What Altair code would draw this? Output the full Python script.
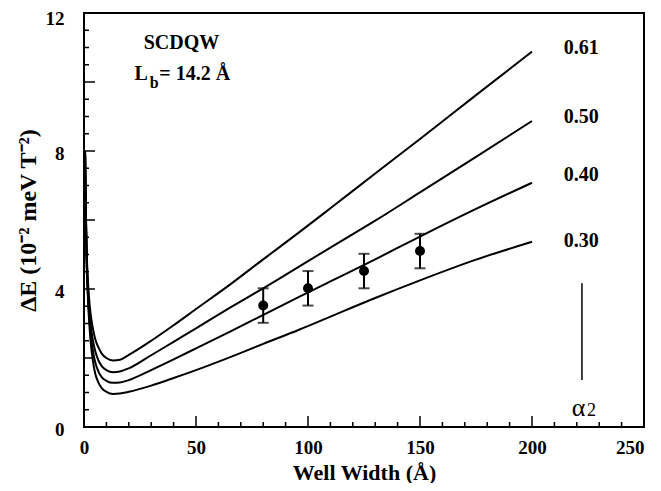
import altair as alt
import pandas as pd

# ---- data ----
well_width = [0.5, 0.8, 1.2, 1.7, 2.3, 3, 4, 5, 6.5, 8, 10, 13, 16, 20, 30, 40, 50, 65, 80, 96, 110, 130, 150, 175, 200]
curve_061 = [8.0, 6.4, 5.1, 4.3, 3.7, 3.25, 2.85, 2.55, 2.3, 2.12, 2.0, 1.93, 1.95, 2.09, 2.5, 2.95, 3.42, 4.12, 4.86, 5.64, 6.34, 7.35, 8.35, 9.62, 10.88]
curve_050 = [7.95, 6.3, 4.95, 4.1, 3.45, 2.95, 2.5, 2.2, 1.92, 1.76, 1.65, 1.59, 1.61, 1.70, 2.08, 2.47, 2.86, 3.45, 4.02, 4.65, 5.2, 5.98, 6.8, 7.83, 8.87]
curve_040 = [7.9, 6.2, 4.8, 3.95, 3.25, 2.7, 2.2, 1.88, 1.6, 1.44, 1.34, 1.28, 1.29, 1.36, 1.65, 1.96, 2.28, 2.76, 3.25, 3.77, 4.22, 4.86, 5.52, 6.32, 7.08]
curve_030 = [7.85, 6.1, 4.65, 3.8, 3.05, 2.45, 1.9, 1.55, 1.28, 1.12, 1.02, 0.96, 0.97, 1.02, 1.2, 1.42, 1.65, 2.02, 2.41, 2.82, 3.2, 3.74, 4.25, 4.85, 5.37]
curve_names = ["0.61", "0.50", "0.40", "0.30"]

exp_x = [80, 100, 125, 150]
exp_y = [3.52, 4.02, 4.52, 5.1]
exp_err = [0.5, 0.5, 0.5, 0.5]

label_x = [222, 222, 222, 222]
label_y = [11.0, 9.0, 7.3, 5.4]

x_minor = [v for v in range(10, 250, 10) if v % 50 != 0]
x_major = [50, 100, 150, 200]
y_minor = [v / 2 for v in range(1, 24) if v % 4 != 0]
y_major = [2, 4, 6, 8, 10]

FONT = "Liberation Serif"
W, H = 560, 414

rows = []
for name, vals in zip(curve_names, [curve_061, curve_050, curve_040, curve_030]):
    for xv, yv in zip(well_width, vals):
        rows.append({"w": xv, "e": yv, "alpha": name})
curves_df = pd.DataFrame(rows)

pts_df = pd.DataFrame({"w": exp_x, "e": exp_y,
                       "lo": [a - b for a, b in zip(exp_y, exp_err)],
                       "hi": [a + b for a, b in zip(exp_y, exp_err)]})
lab_df = pd.DataFrame({"w": label_x, "e": label_y, "t": curve_names})

xs = alt.Scale(domain=[0, 250], nice=False, zero=True)
ys = alt.Scale(domain=[0, 12], nice=False, zero=True)

x_axis = alt.Axis(values=[0, 50, 100, 150, 200, 250], title="Well Width (Å)",
                  ticks=False, domain=False, grid=False, labelPadding=11,
                  labelAlign=alt.expr("datum.value >= 250 ? 'right' : 'center'"),
                  labelFont=FONT, labelFontSize=19, labelFontWeight="bold",
                  labelColor="black", titleFont=FONT, titleFontSize=22,
                  titleFontWeight="bold", titleColor="black", titlePadding=5,
                  labelFlush=False)
y_axis = alt.Axis(values=[0, 4, 8, 12], title="ΔE  (10⁻² meV T⁻²)",
                  ticks=False, domain=False, grid=False, labelPadding=20,
                  labelBaseline=alt.expr("datum.value >= 12 ? 'top' : 'middle'"),
                  labelOffset=alt.expr("datum.value >= 12 ? -4 : 2"),
                  labelFont=FONT, labelFontSize=19, labelFontWeight="bold",
                  labelColor="black", titleFont=FONT, titleFontSize=24,
                  titleFontWeight="bold", titleColor="black",
                  titleX=-56, titleY=207, titleAngle=270, titleAlign="center",
                  titleBaseline="middle", labelFlush=False)


def X(field):
    return alt.X(field, type="quantitative", scale=xs, axis=x_axis)


def Y(field):
    return alt.Y(field, type="quantitative", scale=ys, axis=y_axis)


curves = alt.Chart(curves_df).mark_line(color="black", strokeWidth=2,
                                        interpolate="monotone").encode(
    x=X("w"), y=Y("e"), detail="alpha:N", order="w:Q")

bars = alt.Chart(pts_df).mark_rule(color="black", strokeWidth=2).encode(
    x=X("w"), y=Y("lo"), y2="hi:Q")
caps_lo = alt.Chart(pts_df).mark_tick(color="black", thickness=2, size=11,
                                      orient="horizontal").encode(x=X("w"), y=Y("lo"))
caps_hi = alt.Chart(pts_df).mark_tick(color="black", thickness=2, size=11,
                                      orient="horizontal").encode(x=X("w"), y=Y("hi"))
dots = alt.Chart(pts_df).mark_point(filled=True, color="black", opacity=1,
                                    size=100, shape="circle").encode(x=X("w"), y=Y("e"))

labels = alt.Chart(lab_df).mark_text(font=FONT, fontSize=20, fontWeight="bold",
                                     color="black", align="center",
                                     baseline="middle").encode(
    x=X("w"), y=Y("e"), text="t:N")

# annotations (text content, anchor in data units)
ann_text = ["SCDQW", "L", "b", "= 14.2 Å"]
ann_w = [43.5, 28.5, 29.3, 33.6]
ann_e = [11.14, 10.23, 9.96, 10.23]
ann_size = [20, 20, 16, 20]
ann_align = ["center", "right", "left", "left"]

ann_layers = []
for t, w, e, s, a in zip(ann_text, ann_w, ann_e, ann_size, ann_align):
    ann_layers.append(
        alt.Chart(pd.DataFrame({"w": [w], "e": [e], "t": [t]})).mark_text(
            font=FONT, fontSize=s, fontWeight="bold", color="black", align=a,
            baseline="middle").encode(x=X("w"), y=Y("e"), text="t:N"))

alpha_text = ["α", "2"]
alpha_w = [220.8, 224.6]
alpha_e = [0.32, 0.32]
alpha_size = [26, 18]
alpha_align = ["center", "left"]
for t, w, e, s, a in zip(alpha_text, alpha_w, alpha_e, alpha_size, alpha_align):
    ann_layers.append(
        alt.Chart(pd.DataFrame({"w": [w], "e": [e], "t": [t]})).mark_text(
            font=FONT, fontSize=s, color="black", align=a,
            baseline="alphabetic").encode(x=X("w"), y=Y("e"), text="t:N"))

arrow_df = pd.DataFrame({"w": [222.3], "lo": [1.36], "hi": [4.17]})
arrow = alt.Chart(arrow_df).mark_rule(color="black", strokeWidth=1.5).encode(
    x=X("w"), y=Y("lo"), y2="hi:Q")


# inward ticks
def xticks(vals, length):
    return alt.Chart(pd.DataFrame({"v": vals})).mark_rule(color="black", strokeWidth=1.5).encode(
        x=X("v"), y=alt.value(H), y2=alt.value(H - length))


def yticks(vals, length):
    return alt.Chart(pd.DataFrame({"v": vals})).mark_rule(color="black", strokeWidth=1.5).encode(
        y=Y("v"), x=alt.value(0), x2=alt.value(length))


frame = alt.Chart(pd.DataFrame({"v": [0]})).mark_rect(
    filled=False, fill=None, stroke="black", strokeWidth=2).encode(
    x=alt.value(0), x2=alt.value(W), y=alt.value(0), y2=alt.value(H))

chart = alt.layer(
    curves, xticks(x_minor, 5), xticks(x_major, 11), yticks(y_minor, 5), yticks(y_major, 11),
    bars, caps_lo, caps_hi, dots, labels, *ann_layers, arrow, frame,
).properties(
    width=W, height=H,
    background="white",
    autosize=alt.AutoSizeParams(type="none"),
    padding={"left": 76, "top": 5, "right": 9, "bottom": 56},
).configure_view(stroke=None)

chart.save("out.html", embed_options={"renderer": "svg", "actions": False})
